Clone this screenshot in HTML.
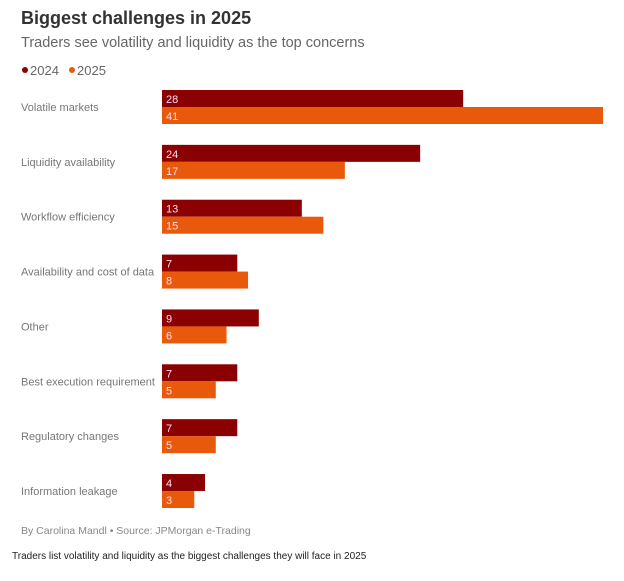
<!DOCTYPE html>
<html><head><meta charset="utf-8"><style>
body{margin:0;background:#fff;width:624px;height:576px;overflow:hidden;font-family:"Liberation Sans",sans-serif}
</style></head><body>
<svg width="624" height="576">
<text x="21" y="24" font-size="18" font-weight="bold" fill="#333">Biggest challenges in 2025</text>
<text x="21" y="47" font-size="14.5" fill="#666">Traders see volatility and liquidity as the top concerns</text>
<g>
<circle cx="25" cy="70" r="3" fill="#8b0000"/>
<text x="30" y="75" font-size="13" fill="#666">2024</text>
<circle cx="72" cy="70" r="3" fill="#e8590c"/>
<text x="77" y="75" font-size="13" fill="#666">2025</text>
</g>
<g id="bars"></g>
<text x="21" y="534" font-size="10.5" fill="#888">By Carolina Mandl • Source: JPMorgan e-Trading</text>
<text x="12" y="559" font-size="10" fill="#222">Traders list volatility and liquidity as the biggest challenges they will face in 2025</text>
</svg>
<script>
const categories=["Volatile markets","Liquidity availability","Workflow efficiency","Availability and cost of data","Other","Best execution requirement","Regulatory changes","Information leakage"];
const values2024=[28,24,13,7,9,7,7,4];
const values2025=[41,17,15,8,6,5,5,3];
const x0=162,scale=441/41,top0=90,step=54.86,bh=17;
const xs=v=>v*scale;
const g=document.getElementById('bars');
const NS="http://www.w3.org/2000/svg";
categories.forEach((c,i)=>{
  const y=top0+i*step;
  const t=document.createElementNS(NS,'text');
  t.setAttribute('x',21);t.setAttribute('y',y+21);t.setAttribute('font-size','11');t.setAttribute('fill','#777');
  t.textContent=c;
  
  
  g.appendChild(t);
  [[values2024[i],'#8b0000',0,'2024'],[values2025[i],'#e8590c',bh,'2025']].forEach(([v,col,off,yr])=>{
    const r=document.createElementNS(NS,'rect');
    r.setAttribute('x',x0);r.setAttribute('y',y+off);r.setAttribute('width',xs(v));r.setAttribute('height',bh);r.setAttribute('fill',col);
    
    
    g.appendChild(r);
    const l=document.createElementNS(NS,'text');
    l.setAttribute('x',x0+4);l.setAttribute('y',y+off+13);l.setAttribute('font-size','11');l.setAttribute('fill','#fde');
    l.textContent=v;
    
    
    g.appendChild(l);
  });
});
</script>
</body></html>
